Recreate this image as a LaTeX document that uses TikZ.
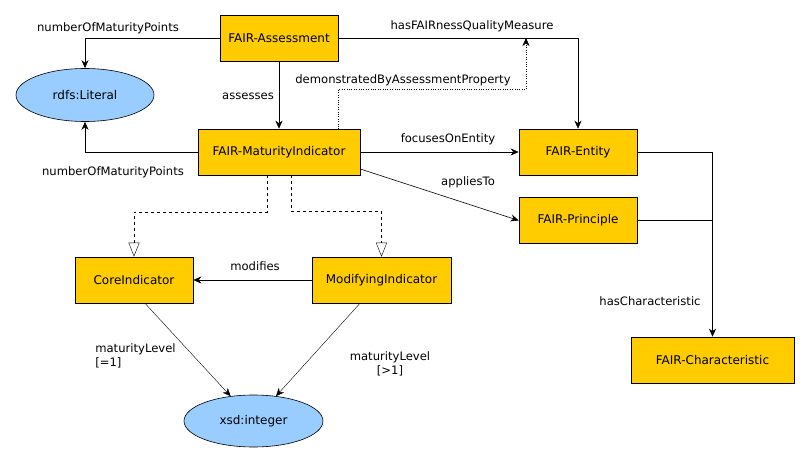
\documentclass[tikz,border=0pt]{standalone}
\usepackage{fontspec}
\setmainfont{DejaVu Sans}
\usetikzlibrary{arrows.meta,shapes.geometric,positioning}

\definecolor{fairyellow}{HTML}{FFCC00}
\definecolor{literalblue}{HTML}{99CCFF}

\begin{document}
\begin{tikzpicture}[x=1pt,y=-1pt,>={Stealth[length=8pt,width=7pt,inset=2.5pt]},semithick,font=\fontsize{12}{14}\selectfont]
\tikzstyle{class node}=[rectangle,draw,fill=fairyellow,minimum height=46pt,inner sep=2]
\tikzstyle{literal node}=[ellipse,draw,fill=literalblue,minimum height=53pt,inner sep=1]
\tikzstyle{label node}=[inner sep=1,font=\fontsize{11.6}{14}\selectfont]

\tikzset{
	sub edge/.style={dashed,-{Triangle[open,length=14pt,width=11pt]},thin},
	demo edge/.style={dotted,->,thin}
}
\useasboundingbox (0,0) rectangle (809,463);

      % classes
      \node[class node,minimum width=118pt] (FA) at (279,38.5) {FAIR-Assessment};
      \node[class node,minimum width=162pt] (MI) at (279,152) {FAIR-MaturityIndicator};
      \node[class node,minimum width=118pt] (ent) at (578,152) {FAIR-Entity};
      \node[class node,minimum width=118pt] (pri) at (578,220.5) {FAIR-Principle};
      \node[class node,minimum width=163pt] (chr) at (712.5,360) {FAIR-Characteristic};
      \node[class node,minimum width=118pt] (core) at (134,280) {CoreIndicator};
      \node[class node,minimum width=139pt] (mod) at (381.5,280) {ModifyingIndicator};

      % literals
      \node[literal node,minimum width=138pt] (lit) at (85,95) {rdfs:Literal};
      \node[literal node,minimum width=139pt,minimum height=52pt] (xsd) at (253.5,421) {xsd:integer};

      \coordinate (dtip) at (526,38);
      \coordinate (dbend) at (526,89);

    \draw[->] (FA.west) -| (lit.north);
    \draw[->] (MI.west) -| (lit.south);
    \draw[->] (FA) -- (MI);
    \draw[->] (FA.east) -| (ent.north);
    \draw[demo edge] ([xshift=-22pt]MI.north east) |- (dbend) -- (dtip);
    \draw[->] (MI) -- (ent);
    \draw[->] ([yshift=-17pt]MI.east) -- (pri.west);
    \draw[->] (ent.east) -| (chr.north);
    \draw (pri.east) -- (pri.east -| chr.north);
    \draw[sub edge] ([xshift=-12pt]MI.south) -- ++(0,37) -| (core.north);
    \draw[sub edge] ([xshift=12pt]MI.south) -- ++(0,36) -| (mod.north);
    \draw[->] (mod) -- (core);
    \draw[->,thin] ([xshift=11pt]core.south) -- (xsd);
    \draw[->,thin] ([xshift=-21.5pt]mod.south) -- (xsd);

    % property labels
    \node[label node] (l1) at (108,28) {numberOfMaturityPoints};
    \node[label node] (l2) at (113,172) {numberOfMaturityPoints};
    \node[label node] (l3) at (248,96) {assesses};
    \node[label node] (l4) at (472,26) {hasFAIRnessQualityMeasure};
    \node[label node] (l5) at (403,80) {demonstratedByAssessmentProperty};
    \node[label node] (l6) at (448,139) {focusesOnEntity};
    \node[label node] (l7) at (468,182) {appliesTo};
    \node[label node] (l8) at (650,301) {hasCharacteristic};
    \node[label node] (l9) at (255,266) {modifies};
    \node[label node,align=left,anchor=west] (l10) at (94,356) {maturityLevel\\{[=1]}};
    \node[label node,align=center] (l11) at (390,364) {maturityLevel\\{[>1]}};
;
\end{tikzpicture}
\end{document}
